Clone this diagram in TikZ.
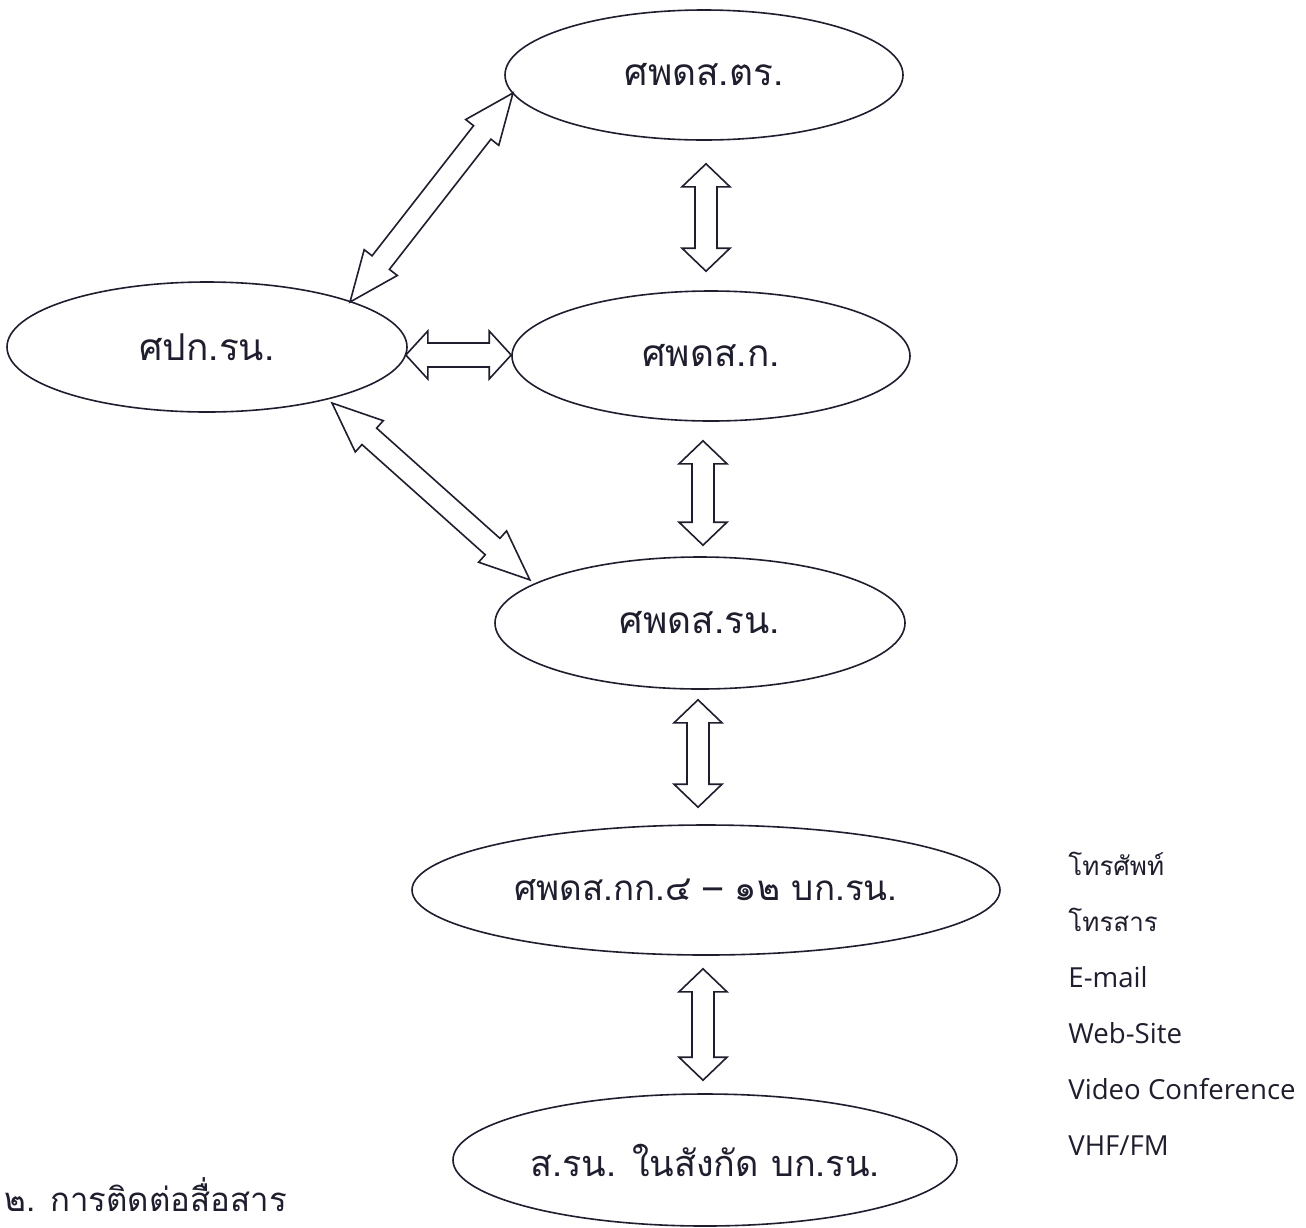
\documentclass[tikz,border=0pt]{standalone}
\usepackage{fontspec}
\setmainfont{Open Sans}
\newfontfamily\thai[Script=Thai]{Loma}
\usetikzlibrary{shapes.geometric,calc}
\definecolor{ink}{HTML}{1E1E2E}
\tikzset{
  oval/.style={ellipse, draw=ink, line width=0.8pt, inner sep=0pt, text=ink,
    font=\thai\fontsize{18.5}{22}\selectfont},
  blk/.style={draw=ink, line width=0.8pt, fill=white, line join=miter},
  lst/.style={anchor=base west, inner sep=0pt, text=ink, font=\fontsize{13.8}{16}\selectfont},
}
% #1 start, #2 end, #3 shaft half width (pt), #4 head half width (pt), #5 head length (pt)
\newcommand\dblarrow[5]{%
  \draw[blk] let \p1=(#1), \p2=(#2),
    \n1={atan2(\y2-\y1,\x2-\x1)}, \n2={veclen(\x2-\x1,\y2-\y1)} in
    [shift={(\p1)}, rotate=\n1]
    (0pt,0pt) -- ({#5*1pt},{#4*1pt}) -- ({#5*1pt},{#3*1pt})
    -- ({(\n2-#5)*1pt},{#3*1pt}) -- ({(\n2-#5)*1pt},{#4*1pt})
    -- ({\n2*1pt},0pt)
    -- ({(\n2-#5)*1pt},{-#4*1pt}) -- ({(\n2-#5)*1pt},{-#3*1pt})
    -- ({#5*1pt},{-#3*1pt}) -- ({#5*1pt},{-#4*1pt}) -- cycle;}
\begin{document}
\begin{tikzpicture}[x=0.5pt,y=-0.5pt]
\useasboundingbox[fill=white] (0,0) rectangle (1306,1227);
% nodes
\node[oval, minimum width=199pt, minimum height=65pt] (tr) at (704,75) {ศพดส.ตร.};
\node[oval, minimum width=200pt, minimum height=65pt] (pkr) at (207,347) {ศปก.รน.};
\node[oval, minimum width=199pt, minimum height=65pt] (pk) at (711,356) {ศพดส.ก.};
\node[oval, minimum width=205pt, minimum height=66pt] (prn) at (700,623) {ศพดส.รน.};
\node[oval, minimum width=294pt, minimum height=65pt, font=\thai\fontsize{17.5}{21}\selectfont] (pkk) at (706,890) {ศพดส.กก.๔ – ๑๒ บก.รน.};
\node[oval, minimum width=252pt, minimum height=66pt, font=\thai\fontsize{18}{21}\selectfont] (srn) at (705,1160) {ส.รน. ในสังกัด บก.รน.};
% arrow end points on / near the ovals
\coordinate (a1s) at ($(pkr.center)+(143,-45)$);
\coordinate (a1e) at ($(tr.center)+(-191,18)$);
\coordinate (a2s) at ($(tr.south)+(2,23)$);
\coordinate (a2e) at ($(pk.north)+(-5,-19)$);
\coordinate (a3s) at ($(pkr.east)+(-2,8)$);
\coordinate (a3e) at ($(pk.west)+(0,-1)$);
\coordinate (a4s) at ($(pkr.center)+(125,56)$);
\coordinate (a4e) at ($(prn.center)+(-170,-43)$);
\coordinate (a5s) at ($(pk.south)+(-8,19)$);
\coordinate (a5e) at ($(prn.north)+(3,-11)$);
\coordinate (a6s) at ($(prn.south)+(-2,10)$);
\coordinate (a6e) at ($(pkk.north)+(-8,-17)$);
\coordinate (a7s) at ($(pkk.south)+(-3,13)$);
\coordinate (a7e) at ($(srn.north)+(-2,-13)$);
% arrows
\dblarrow{a1s}{a1e}{5.5}{10.5}{25}
\dblarrow{a2s}{a2e}{5.5}{12}{11.5}
\dblarrow{a3s}{a3e}{6}{12}{11}
\dblarrow{a4s}{a4e}{5.5}{10.5}{25}
\dblarrow{a5s}{a5e}{5.5}{12}{11.5}
\dblarrow{a6s}{a6e}{5.5}{12}{11.5}
\dblarrow{a7s}{a7e}{5.5}{12}{11.5}
% list of media
\node[lst] (m1) at (1068,875) {\thai\fontsize{13}{16}\selectfont โทรศัพท์};
\node[lst] (m2) at (1068,931) {\thai\fontsize{13}{16}\selectfont โทรสาร};
\node[lst] (m3) at (1068,987) {E-mail};
\node[lst] (m4) at (1068,1043) {Web-Site};
\node[lst] (m5) at (1068,1099) {Video Conference};
\node[lst] (m6) at (1068,1155) {VHF/FM};
% caption
\node[lst, font=\thai\fontsize{16.5}{18}\selectfont] (cap) at (4,1211) {๒. การติดต่อสื่อสาร};
\end{tikzpicture}
\end{document}
